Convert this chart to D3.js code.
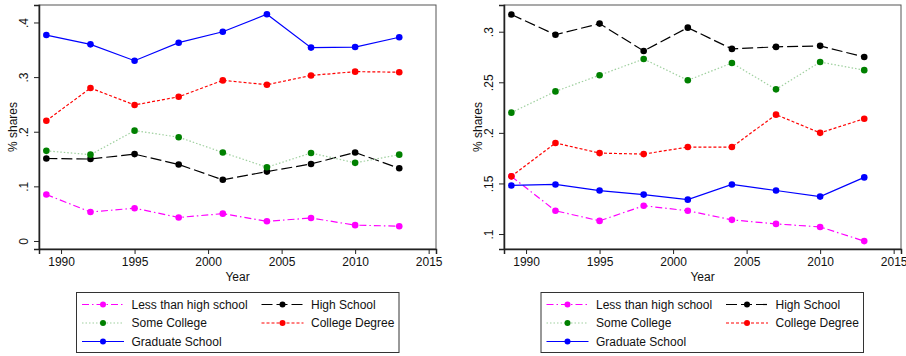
<!DOCTYPE html>
<html>
<head>
<meta charset="utf-8">
<script src="https://cdn.jsdelivr.net/npm/d3@7"></script>
<style>
  body { margin: 0; background: #fff; }
  text { font-family: "Liberation Sans", Arial, sans-serif; }
</style>
</head>
<body>
<svg id="chart" width="906" height="356"></svg>
<script>
const years = [1989, 1992, 1995, 1998, 2001, 2004, 2007, 2010, 2013]
const xTicks = [1990, 1995, 2000, 2005, 2010, 2015]

// left panel
const leftLess = [0.085, 0.053, 0.060, 0.043, 0.050, 0.036, 0.042, 0.029, 0.027]
const leftHigh = [0.151, 0.150, 0.159, 0.140, 0.112, 0.127, 0.141, 0.162, 0.133]
const leftSome = [0.165, 0.158, 0.202, 0.190, 0.162, 0.135, 0.161, 0.143, 0.158]
const leftCollege = [0.220, 0.280, 0.249, 0.264, 0.294, 0.286, 0.303, 0.310, 0.309]
const leftGrad = [0.377, 0.360, 0.330, 0.363, 0.383, 0.415, 0.354, 0.355, 0.373]
const leftYTicks = [0, 0.1, 0.2, 0.3, 0.4]

// right panel
const rightLess = [0.157, 0.123, 0.113, 0.128, 0.123, 0.114, 0.110, 0.107, 0.093]
const rightHigh = [0.317, 0.297, 0.308, 0.281, 0.304, 0.283, 0.285, 0.286, 0.275]
const rightSome = [0.220, 0.241, 0.257, 0.273, 0.252, 0.269, 0.243, 0.270, 0.262]
const rightCollege = [0.157, 0.190, 0.180, 0.179, 0.186, 0.186, 0.218, 0.200, 0.214]
const rightGrad = [0.148, 0.149, 0.143, 0.139, 0.134, 0.149, 0.143, 0.137, 0.156]
const rightYTicks = [0.1, 0.15, 0.2, 0.25, 0.3]

const seriesNames = ['Less than high school', 'High School', 'Some College', 'College Degree', 'Graduate School']

const styles = [
  { line: '#ff00ff', dot: '#ff00ff', dash: '7,3,1.5,3', width: 1.2 },
  { line: '#000000', dot: '#000000', dash: '11,4', width: 1.2 },
  { line: '#9fd09f', dot: '#008000', dash: '1.5,2', width: 1.2 },
  { line: '#ff0000', dot: '#ff0000', dash: '3,2', width: 1.2 },
  { line: '#0000ff', dot: '#0000ff', dash: null, width: 1.2 }
]

const fmt = v => {
  if (v === 0) return '0'
  return String(+v.toFixed(2)).replace(/^0/, '')
}

const svg = d3.select('#chart')

function drawPanel (cfg) {
  const g = svg.append('g')
  const x = d3.scaleLinear().domain([1988.5, 2015.5]).range([cfg.left, cfg.right])
  const y = d3.scaleLinear().domain(cfg.yDomain).range([249, 5])

  // frame
  g.append('rect')
    .attr('x', cfg.left).attr('y', 5)
    .attr('width', cfg.right - cfg.left).attr('height', 244)
    .attr('fill', 'none').attr('stroke', '#555').attr('stroke-width', 1)

  const ya = g.append('g')
    .attr('transform', `translate(${cfg.left},0)`)
    .call(d3.axisLeft(y).tickValues(cfg.yTicks).tickFormat(fmt).tickSize(5).tickPadding(3))
  ya.select('.domain').attr('stroke', '#222').attr('stroke-width', 1.5)
  ya.selectAll('.tick line').attr('stroke', '#222')
  ya.selectAll('.tick text')
    .attr('font-size', 12).attr('fill', '#111')
    .attr('text-anchor', 'middle')
    .attr('transform', 'rotate(-90)')
    .attr('x', 0).attr('dy', 0)
    .attr('y', -11)

  const xa = g.append('g')
    .attr('transform', 'translate(0,249)')
    .call(d3.axisBottom(x).tickValues(xTicks).tickFormat(d3.format('d')).tickSize(5).tickPadding(3))
  xa.select('.domain').attr('stroke', '#222').attr('stroke-width', 1.5)
  xa.selectAll('.tick line').attr('stroke', '#222')
  xa.selectAll('.tick text').attr('font-size', 12).attr('fill', '#111')

  g.append('text')
    .attr('x', (cfg.left + cfg.right) / 2).attr('y', 281)
    .attr('text-anchor', 'middle').attr('font-size', 12).attr('fill', '#111')
    .text('Year')

  g.append('text')
    .attr('transform', `translate(${cfg.left - 22},127) rotate(-90)`)
    .attr('text-anchor', 'middle').attr('font-size', 12).attr('fill', '#111')
    .text('% shares')

  const line = d3.line().x((d, i) => x(years[i])).y(d => y(d))

  cfg.series.forEach((vals, k) => {
    const st = styles[k]
    g.append('path')
      .attr('d', line(vals))
      .attr('fill', 'none')
      .attr('stroke', st.line)
      .attr('stroke-width', st.width)
      .attr('stroke-dasharray', st.dash)
  })
  cfg.series.forEach((vals, k) => {
    g.selectAll(null).data(vals).enter().append('circle')
      .attr('cx', (d, i) => x(years[i]))
      .attr('cy', d => y(d))
      .attr('r', 3.3)
      .attr('fill', styles[k].dot)
  })

  // legend
  const lg = g.append('g').attr('transform', `translate(${cfg.legendX},292.5)`)
  lg.append('rect')
    .attr('width', 322.5).attr('height', 60)
    .attr('fill', '#fff').attr('stroke', '#333').attr('stroke-width', 1)
  seriesNames.forEach((name, k) => {
    const col = k % 2
    const row = Math.floor(k / 2)
    const sx = 5.5 + col * 179.5
    const sy = 12 + row * 18.5
    const st = styles[k]
    lg.append('line')
      .attr('x1', sx).attr('x2', sx + 42)
      .attr('y1', sy).attr('y2', sy)
      .attr('stroke', st.line).attr('stroke-width', st.width)
      .attr('stroke-dasharray', st.dash)
    lg.append('circle')
      .attr('cx', sx + 21).attr('cy', sy).attr('r', 3)
      .attr('fill', st.dot)
    lg.append('text')
      .attr('x', sx + 49.5).attr('y', sy + 4.3)
      .attr('font-size', 12).attr('fill', '#111')
      .text(name)
  })
}

drawPanel({
  left: 39, right: 436,
  yDomain: [-0.0147, 0.432],
  yTicks: leftYTicks,
  series: [leftLess, leftHigh, leftSome, leftCollege, leftGrad],
  legendX: 76.5
})

drawPanel({
  left: 504, right: 901,
  yDomain: [0.0852, 0.3264],
  yTicks: rightYTicks,
  series: [rightLess, rightHigh, rightSome, rightCollege, rightGrad],
  legendX: 541
})
</script>
</body>
</html>
